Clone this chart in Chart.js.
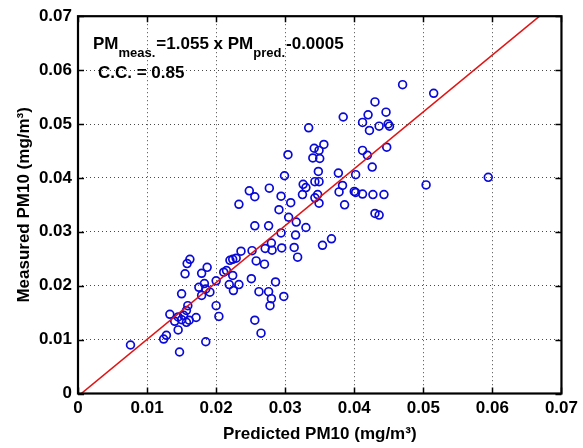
<!DOCTYPE html>
<html><head><meta charset="utf-8">
<script src="https://cdn.jsdelivr.net/npm/chart.js@4.4.1/dist/chart.umd.min.js"></script>
<style>html,body{margin:0;padding:0;background:#fff;}canvas{display:block;}</style>
</head><body>
<canvas id="c" width="583" height="448"></canvas>
<script>
// ---- data ----
const predicted = [
0.0470,0.0515,0.0430,0.0420,0.0446,0.0384,0.0412,0.0422,0.0436,0.0449,
0.0451,0.0334,0.0304,0.0342,0.0349,0.0356,0.0340,0.0350,0.0412,0.0419,
0.0447,0.0426,0.0348,0.0377,0.0402,0.0299,0.0594,0.0504,0.0326,0.0330,
0.0343,0.0349,0.0383,0.0378,0.0400,0.0402,0.0412,0.0427,0.0443,0.0325,
0.0347,0.0343,0.0349,0.0386,0.0308,0.0294,0.0430,0.0436,0.0277,0.0248,
0.0256,0.0233,0.0291,0.0305,0.0316,0.0330,0.0315,0.0313,0.0318,0.0294,
0.0295,0.0354,0.0367,0.0256,0.0276,0.0280,0.0271,0.0281,0.0252,0.0236,
0.0258,0.0270,0.0220,0.0224,0.0229,0.0211,0.0215,0.0224,0.0219,0.0225,
0.0233,0.0251,0.0286,0.0262,0.0276,0.0280,0.0278,0.0298,0.0200,0.0204,
0.0256,0.0265,0.0185,0.0187,0.0179,0.0162,0.0158,0.0155,0.0175,0.0183,
0.0185,0.0191,0.0200,0.0150,0.0179,0.0133,0.0159,0.0157,0.0153,0.0150,
0.0145,0.0140,0.0161,0.0157,0.0171,0.0145,0.0128,0.0124,0.0076,0.0147];
const measured = [
0.0573,0.0557,0.0541,0.0517,0.0522,0.0513,0.0503,0.0488,0.0496,0.0500,
0.0496,0.0493,0.0443,0.0455,0.0451,0.0462,0.0437,0.0436,0.0451,0.0442,
0.0457,0.0420,0.0412,0.0409,0.0406,0.0404,0.0401,0.0387,0.0388,0.0382,
0.0393,0.0393,0.0386,0.0374,0.0375,0.0373,0.0370,0.0369,0.0369,0.0369,
0.0369,0.0363,0.0353,0.0350,0.0354,0.0366,0.0334,0.0331,0.0381,0.0376,
0.0365,0.0351,0.0341,0.0327,0.0318,0.0308,0.0294,0.0271,0.0253,0.0298,
0.0270,0.0275,0.0287,0.0311,0.0311,0.0279,0.0269,0.0266,0.0265,0.0264,
0.0246,0.0240,0.0247,0.0249,0.0251,0.0225,0.0228,0.0219,0.0202,0.0191,
0.0202,0.0213,0.0207,0.0189,0.0189,0.0176,0.0163,0.0180,0.0163,0.0143,
0.0136,0.0112,0.0096,0.0234,0.0223,0.0249,0.0241,0.0222,0.0197,0.0204,
0.0194,0.0188,0.0209,0.0185,0.0182,0.0147,0.0163,0.0154,0.0145,0.0137,
0.0142,0.0134,0.0136,0.0132,0.0141,0.0118,0.0108,0.0101,0.0090,0.0077];
const xTickValues = [0,0.01,0.02,0.03,0.04,0.05,0.06,0.07];
const xTickLabels = ['0','0.01','0.02','0.03','0.04','0.05','0.06','0.07'];
const yTickValues = [0,0.01,0.02,0.03,0.04,0.05,0.06,0.07];
const yTickLabels = ['0','0.01','0.02','0.03','0.04','0.05','0.06','0.07'];
const fitSlope = 1.055;
const fitIntercept = -0.0005;
const corrCoef = 0.85;
const xTitle = 'Predicted PM10 (mg/m\u00B3)';
const yTitle = 'Measured PM10 (mg/m\u00B3)';

const AX_MIN = 0, AX_MAX = 0.07;
const FONT = '"Liberation Sans", Arial, sans-serif';

const scatterData = predicted.map((p, i) => ({x: p, y: measured[i]}));
// fit line end points clipped to the axes box
const fitLine = [
  {x: (AX_MIN - fitIntercept) / fitSlope, y: AX_MIN},
  {x: (AX_MAX - fitIntercept) / fitSlope, y: AX_MAX}
];

const frame = {
  id: 'frame',
  afterDatasetsDraw(chart) {
    const {ctx, chartArea: a, scales: {x, y}} = chart;
    ctx.save();
    ctx.strokeStyle = '#000';
    ctx.lineWidth = 1.5;
    const L = 6;
    ctx.beginPath();
    xTickValues.forEach(v => {
      const px = Math.round(x.getPixelForValue(v)) + 0.5;
      ctx.moveTo(px, a.bottom); ctx.lineTo(px, a.bottom - L);
      ctx.moveTo(px, a.top); ctx.lineTo(px, a.top + L);
    });
    yTickValues.forEach(v => {
      const py = Math.round(y.getPixelForValue(v)) + 0.5;
      ctx.moveTo(a.left, py); ctx.lineTo(a.left + L, py);
      ctx.moveTo(a.right, py); ctx.lineTo(a.right - L, py);
    });
    ctx.stroke();
    ctx.lineWidth = 2.2;
    ctx.strokeRect(a.left, a.top, a.right - a.left, a.bottom - a.top);

    // annotation text
    ctx.fillStyle = '#000';
    ctx.textBaseline = 'alphabetic';
    ctx.textAlign = 'left';
    const big = 'bold 17px ' + FONT;
    const small = 'bold 13px ' + FONT;
    const base = a.top + 32.5;
    const parts = [
      ['PM', big, 0],
      ['meas.', small, 8.5],
      ['=' + fitSlope.toFixed(3) + ' x PM', big, 0],
      ['pred.', small, 8.5],
      [fitIntercept.toFixed(4), big, 0]
    ];
    let tx = a.left + 15;
    parts.forEach(([t, f, dy]) => {
      ctx.font = f;
      ctx.fillText(t, tx, base + dy);
      tx += ctx.measureText(t).width + (dy ? 1 : 0);
    });
    ctx.font = big;
    ctx.fillText('C.C. = ' + corrCoef.toFixed(2), a.left + 20, a.top + 62);
    ctx.restore();
  }
};

const gridOpts = {
  color: 'rgba(40,40,40,0.85)',
  lineWidth: 1,
  drawTicks: false,
  borderDash: [1, 3]
};

new Chart(document.getElementById('c'), {
  type: 'scatter',
  data: {
    datasets: [
      {
        type: 'line',
        data: fitLine,
        borderColor: 'rgb(225,20,20)',
        borderWidth: 1.6,
        pointRadius: 0,
        fill: false,
        order: 0
      },
      {
        data: scatterData,
        pointStyle: 'circle',
        pointRadius: 3.9,
        pointBorderWidth: 1.7,
        pointBorderColor: 'rgb(10,10,215)',
        pointBackgroundColor: 'rgba(0,0,0,0)',
        order: 1
      }
    ]
  },
  options: {
    responsive: false,
    animation: false,
    devicePixelRatio: 1,
    layout: {padding: {top: 13, right: 19, left: 0, bottom: 0}},
    plugins: {legend: {display: false}, tooltip: {enabled: false}},
    scales: {
      x: {
        type: 'linear', min: AX_MIN, max: AX_MAX,
        afterBuildTicks: s => { s.ticks = xTickValues.map(v => ({value: v})); },
        afterFit: s => { s.height = 54.5; },
        ticks: {
          padding: 5, color: '#000',
          font: {family: FONT, size: 17, weight: 'bold'},
          callback: (v, i) => xTickLabels[i]
        },
        grid: gridOpts,
        border: {display: false, dash: [1, 3]},
        title: {
          display: true, text: xTitle, color: '#000',
          font: {family: FONT, size: 17, weight: 'bold'},
          padding: {top: 0, bottom: 3}
        }
      },
      y: {
        type: 'linear', min: AX_MIN, max: AX_MAX,
        afterBuildTicks: s => { s.ticks = yTickValues.map(v => ({value: v})); },
        afterFit: s => { s.width = 78; },
        ticks: {
          padding: 6, color: '#000',
          font: {family: FONT, size: 17, weight: 'bold'},
          callback: (v, i) => yTickLabels[i]
        },
        grid: gridOpts,
        border: {display: false, dash: [1, 3]},
        title: {
          display: true, text: yTitle, color: '#000',
          font: {family: FONT, size: 17, weight: 'bold'},
          padding: {top: 14, bottom: 0}
        }
      }
    }
  },
  plugins: [frame]
});
</script>
</body></html>
